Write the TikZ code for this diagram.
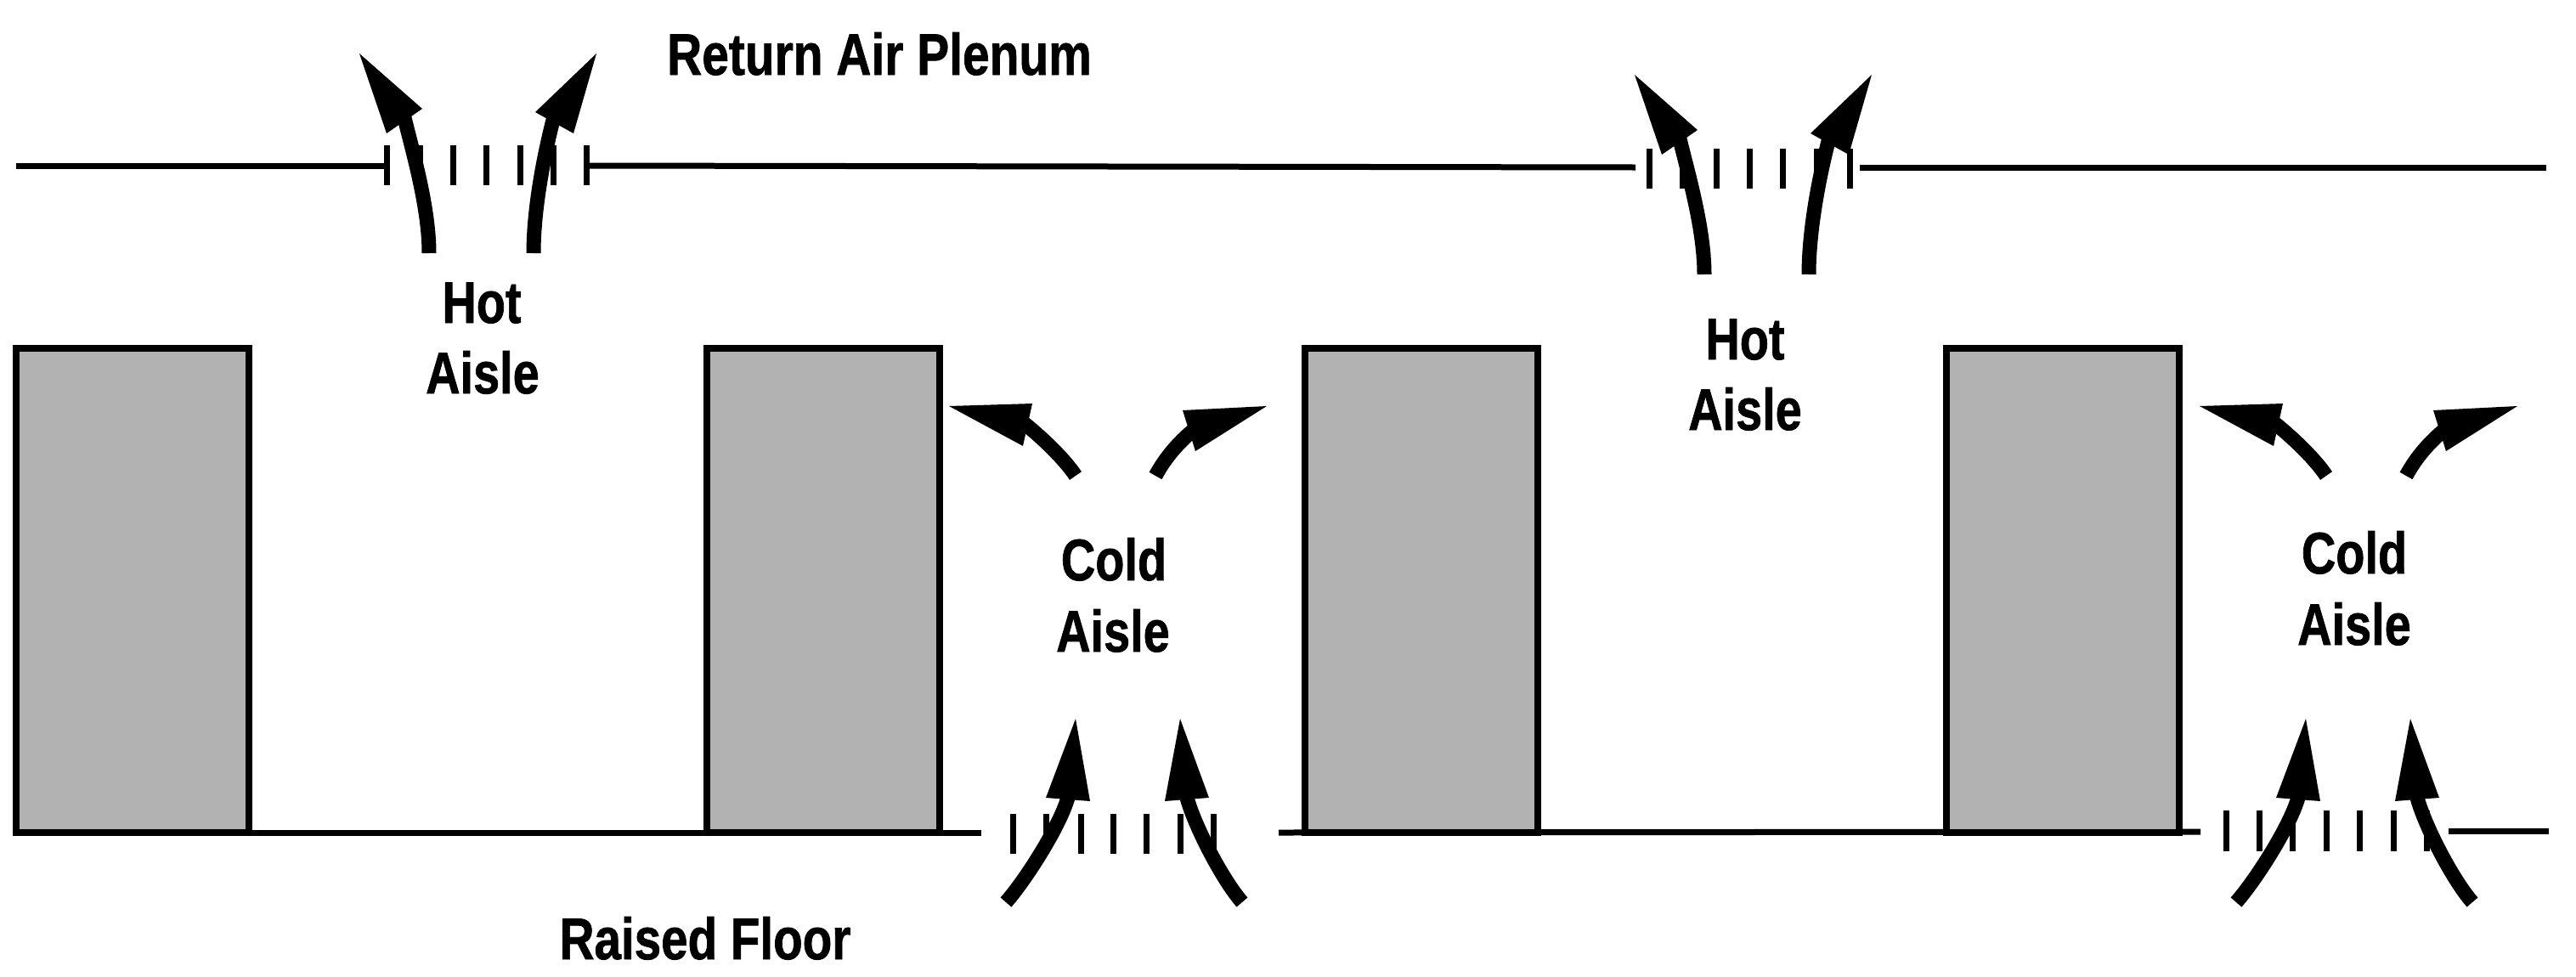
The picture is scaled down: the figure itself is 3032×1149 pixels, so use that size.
\documentclass[tikz,border=0pt]{standalone}
\usepackage{fontspec}
\setmainfont{Liberation Sans}[BoldFeatures={FakeBold=1.2}]
\usepackage{graphicx}
\definecolor{rackgray}{RGB}{178,178,178}
\newcommand\lbl[2][0.81]{\scalebox{#1}[1]{\fontsize{69}{69}\selectfont\bfseries #2}}
\begin{document}
\begin{tikzpicture}[x=1pt,y=-1pt,
  wall/.style={line width=7pt},
  venttick/.style={line width=7pt},
  rack/.style={draw=black,line width=8pt,fill=rackgray},
  flow/.style={line width=17pt},
  lab/.style={inner sep=0pt,anchor=base}]
\useasboundingbox (0,0) rectangle (3032,1149);
\fill[white] (0,0) rectangle (3032,1149);

% ceiling (return air plenum)
\draw[wall] (19,195) -- (455,195);
\draw[wall] (690,195) -- (1925,197);
\draw[wall] (2189,197) -- (2997,197);
\foreach \x in {455,494,533,572,612,651,690} \draw[venttick] (\x,171) -- (\x,218);
\foreach \x in {1941,1980,2020,2059,2098,2138,2177} \draw[venttick] (\x,175) -- (\x,222);

% raised floor
\draw[wall] (15,980) -- (1155,980);
\draw[wall] (1505,980) -- (2590,979);
\draw[wall] (2882,978) -- (3000,978);
\foreach \x in {1192,1231,1272,1310,1349,1389,1428} \draw[venttick] (\x,958) -- (\x,1005);
\foreach \x in {2620,2659,2698,2738,2777,2817,2856} \draw[venttick] (\x,954) -- (\x,1002);

% racks
\draw[rack] (19,410) rectangle (293,980);
\draw[rack] (832,410) rectangle (1106,980);
\draw[rack] (1536,410) rectangle (1810,980);
\draw[rack] (2291,410) rectangle (2565,980);

% hot aisle arrows
\foreach \dx/\dy in {0/0,1501/25}{
\begin{scope}[shift={(\dx,\dy)}]
\draw[flow] (505,298) .. controls (505,240) and (483,170) .. (474,130);
\fill (423,63) -- (455,157) -- (497,128) -- cycle;
\draw[flow] (628,298) .. controls (628,240) and (643,170) .. (654,130);
\fill (702,63) -- (630,132) -- (675,157) -- cycle;
\end{scope}}

% cold aisle arrows (top)
\foreach \dx in {0,1472}{
\begin{scope}[shift={(\dx,0)}]
\draw[flow] (1266,560) .. controls (1252,539) and (1224,513) .. (1204,497);
\fill (1117,478) -- (1215,475) -- (1204,525) -- cycle;
\draw[flow] (1360,560) .. controls (1372,538) and (1387,521) .. (1406,505);
\fill (1491,478) -- (1392,483) -- (1407,531) -- cycle;
\end{scope}}

% cold aisle arrows (bottom)
\foreach \dx in {0,1448}{
\begin{scope}[shift={(\dx,0)}]
\draw[flow] (1184,1062) .. controls (1207,1036) and (1250,969) .. (1258,935);
\fill (1266,846) -- (1231,939) -- (1283,943) -- cycle;
\draw[flow] (1462,1062) .. controls (1439,1036) and (1404,969) .. (1396,935);
\fill (1389,846) -- (1371,943) -- (1423,939) -- cycle;
\end{scope}}

% labels
\node[lab] (rap) at (1035,88) {\lbl[0.825]{Return Air Plenum}};
\node[lab] (rf) at (830,1129) {\lbl[0.82]{Raised Floor}};
\node[lab] (h1a) at (567,380) {\lbl{Hot}};
\node[lab] (h1b) at (568,463) {\lbl{Aisle}};
\node[lab] (c1a) at (1311,683) {\lbl{Cold}};
\node[lab] (c1b) at (1310,767) {\lbl{Aisle}};
\node[lab] (h2a) at (2054,423) {\lbl{Hot}};
\node[lab] (h2b) at (2054,506) {\lbl{Aisle}};
\node[lab] (c2a) at (2771,675) {\lbl{Cold}};
\node[lab] (c2b) at (2771,759) {\lbl{Aisle}};
\end{tikzpicture}
\end{document}
